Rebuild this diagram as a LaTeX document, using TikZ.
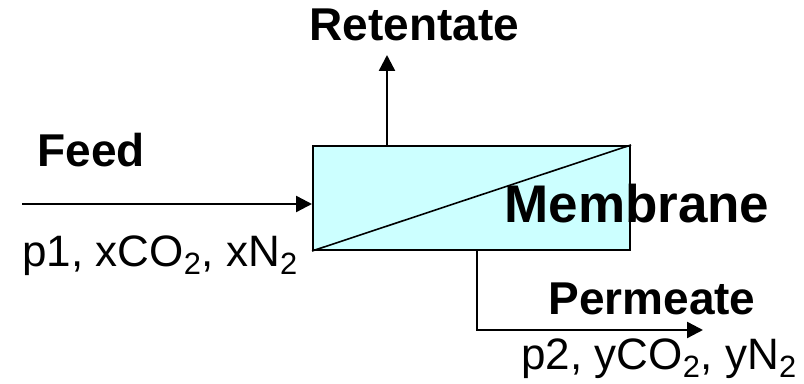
\documentclass[tikz,border=0pt]{standalone}
\usepackage{fontspec}
\setmainfont{Liberation Sans}
\usetikzlibrary{arrows.meta,positioning}
\definecolor{membfill}{HTML}{CCFFFF}

\begin{document}
\begin{tikzpicture}[x=0.5pt, y=-0.5pt,
    unit/.style={rectangle, draw=black, fill=membfill, line width=1pt,
                minimum width=158.5pt, minimum height=52pt, inner sep=0pt},
    tag/.style={anchor=base west, inner sep=0pt,
                font=\fontsize{23}{27}\selectfont\bfseries},
    cond/.style={anchor=base west, inner sep=0pt,
                font=\fontsize{22}{26}\selectfont},
    arr/.style={-{Triangle[length=8pt, width=8pt]}, line width=1.2pt},
]
\useasboundingbox (0,0) rectangle (804,384);

% --- Membrane unit ---
\node[unit] (unit) at (471.5,198) {};
\draw[line width=0.8pt] (unit.south west) -- (unit.north east);
\node[anchor=base west, inner sep=0pt,
      font=\fontsize{26.5}{30}\selectfont\bfseries] (memb) at (504,223) {Membrane};

% --- Feed ---
\coordinate (feedin) at (22,204);
\draw[arr] (feedin) -- (feedin -| unit.west);
\node[tag] (feed) at (37,167) {Feed};
\node[cond] (feedcond) at (22,267) {p1, xCO\textsubscript{2}, xN\textsubscript{2}};

% --- Retentate ---
\coordinate (retout) at (387,55);
\draw[arr] (retout |- unit.north) -- (retout);
\node[tag] (ret) at (309,41) {Retentate};

% --- Permeate ---
\coordinate (permbend) at (477,330);
\coordinate (permout) at (703,330);
\draw[arr] (permbend |- unit.south) -- (permbend) -- (permout);
\node[tag] (perm) at (548,315) {Permeate};
\node[cond] (permcond) at (521,370) {p2, yCO\textsubscript{2}, yN\textsubscript{2}};

\end{tikzpicture}
\end{document}
